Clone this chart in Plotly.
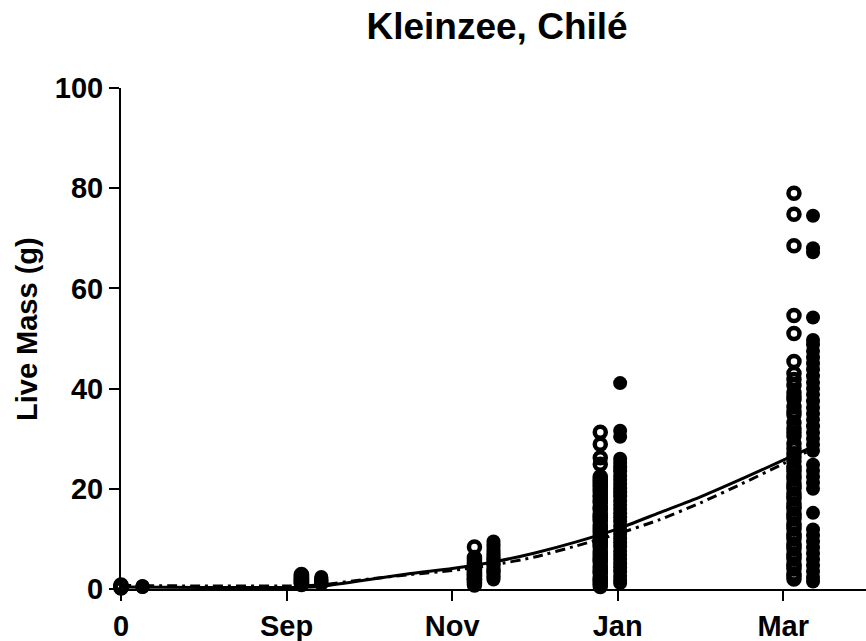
import plotly.graph_objects as go

# ---------------- data ----------------
tick_vals = [0, 2, 4, 6, 8]
tick_text = ["0", "Sep", "Nov", "Jan", "Mar"]

# sampling times (months from start) for the two groups
x_open = [0.0, 2.18, 4.27, 5.79, 8.13]
x_filled = [0.26, 2.42, 4.50, 6.03, 8.36]

open_t0 = [0.2, 0.4, 0.5, 0.6, 0.8, 0.3]
open_sep = [0.9, 1.1, 1.3, 1.5, 1.6, 1.8, 2.0, 2.1, 2.3, 2.5, 2.7, 2.9, 1.2, 1.9]
open_nov = [8.4, 6.3, 5.9, 5.6, 5.2, 4.9, 4.6, 4.4, 4.1, 3.8, 3.6, 3.3, 3.0, 2.8,
            2.5, 2.2, 2.0, 1.7, 1.4, 1.1, 0.8, 4.0, 3.2, 2.6, 1.9]
open_jan = [31.3, 28.9, 26.2, 24.9, 22.4, 21.6, 20.8, 20.0, 19.3, 18.6, 17.9, 17.2,
            16.5, 15.8, 15.0, 14.3, 13.5, 12.8, 12.0, 11.2, 10.5, 9.8, 9.0, 8.3,
            7.6, 6.8, 6.0, 5.3, 4.6, 3.8, 3.1, 2.4, 1.7, 1.0, 0.5, 20.5, 18.4,
            14.6, 10.1, 7.2, 4.2, 22.0, 21.2, 19.7, 17.5, 16.1, 13.9, 12.4, 11.6,
            9.4, 8.7, 6.4, 5.7, 3.4, 2.0, 1.3]
open_mar = [79.0, 74.8, 68.5, 54.6, 51.0, 45.4, 43.0, 41.8, 40.6, 39.2, 37.8, 36.4,
            34.8, 33.2, 32.0, 30.5, 29.0, 28.0, 27.0, 25.5, 24.5, 23.5, 22.0, 21.0,
            20.0, 19.0, 18.0, 17.0, 16.0, 15.0, 14.0, 13.0, 12.0, 11.0, 10.0, 9.0,
            8.0, 7.0, 6.0, 5.0, 4.0, 3.0, 2.0, 26.3, 24.0, 22.6, 20.5, 18.5, 16.5,
            14.5, 12.5, 10.5, 8.5, 6.5, 4.5, 2.6, 31.2, 35.5, 38.4]

filled_t0 = [0.4, 0.5, 0.6, 0.5, 0.4]
filled_sep = [1.0, 1.2, 1.4, 1.6, 1.8, 2.0, 2.2, 2.4, 1.3, 1.7]
filled_nov = [9.5, 9.0, 8.5, 8.0, 7.6, 7.1, 6.7, 6.3, 5.9, 5.5, 5.1, 4.8, 4.4, 4.0,
              3.7, 3.3, 3.0, 2.6, 2.3, 1.9, 6.0, 5.0, 3.5]
filled_jan = [41.1, 31.6, 30.4, 26.0, 25.2, 24.3, 23.5, 22.6, 21.8, 21.0, 20.1, 19.3,
              18.5, 17.6, 16.8, 16.0, 15.1, 14.3, 13.5, 12.6, 11.8, 11.0, 10.1, 9.3,
              8.5, 7.6, 6.8, 6.0, 5.1, 4.3, 3.5, 2.6, 1.8, 1.2]
filled_mar = [74.5, 68.0, 67.2, 54.2, 49.7, 48.8, 47.5, 46.2, 45.0, 43.8, 42.5, 41.2,
              40.0, 38.8, 37.5, 36.2, 35.0, 33.8, 32.5, 31.2, 30.0, 28.8, 27.6, 24.8,
              23.6, 22.4, 21.2, 20.0, 15.2, 11.9, 10.7, 9.5, 8.3, 7.1, 5.9, 4.7,
              3.5, 2.3, 1.5]

# fitted growth curves
fit_x = [0, 1, 2, 2.4, 3, 3.5, 4, 4.5, 5, 5.5, 6, 6.5, 7, 7.5, 8, 8.36]
fit_solid = [0.4, 0.3, 0.3, 0.5, 1.9, 3.1, 4.1, 5.4, 7.2, 9.4, 12.0, 15.2, 18.4,
             22.0, 25.7, 28.4]
fit_dashdot = [0.7, 0.6, 0.6, 0.8, 2.0, 2.9, 3.7, 4.8, 6.4, 8.6, 11.0, 13.8, 17.2,
               21.0, 25.0, 28.0]

open_groups = [open_t0, open_sep, open_nov, open_jan, open_mar]
filled_groups = [filled_t0, filled_sep, filled_nov, filled_jan, filled_mar]

# ---------------- figure ----------------
FONT = "Liberation Sans, Arial, sans-serif"

ox, oy = [], []
for xv, ys in zip(x_open, open_groups):
    ox += [xv] * len(ys)
    oy += ys
fx, fy = [], []
for xv, ys in zip(x_filled, filled_groups):
    fx += [xv] * len(ys)
    fy += ys

fig = go.Figure()
fig.add_trace(go.Scatter(
    x=ox, y=oy, mode="markers", cliponaxis=False,
    marker=dict(symbol="circle-open", size=11, color="black",
                line=dict(width=4.5, color="black")),
    showlegend=False))
fig.add_trace(go.Scatter(
    x=fx, y=fy, mode="markers", cliponaxis=False,
    marker=dict(symbol="circle", size=14, color="black"),
    showlegend=False))
fig.add_trace(go.Scatter(
    x=fit_x, y=fit_solid, mode="lines", line=dict(color="black", width=3,
                                                   shape="spline", smoothing=0.6),
    showlegend=False))
fig.add_trace(go.Scatter(
    x=fit_x, y=fit_dashdot, mode="lines",
    line=dict(color="black", width=3, dash="10px,5px,3px,5px",
              shape="spline", smoothing=0.6),
    showlegend=False))

fig.update_layout(
    width=866, height=641,
    margin=dict(l=121, r=0, t=88, b=52),
    paper_bgcolor="white", plot_bgcolor="white",
    title=dict(text="Kleinzee, Chilé", x=0.574, xanchor="center",
               y=1 - 26 / 641, yanchor="middle", yref="container",
               font=dict(family=FONT, size=37, color="black", weight="bold")),
    xaxis=dict(range=[0, 9.0], tickvals=tick_vals, ticktext=tick_text,
               ticks="outside", ticklen=10, tickwidth=2, tickcolor="black",
               showline=True, linewidth=2, linecolor="black",
               showgrid=False, zeroline=False,
               tickfont=dict(family=FONT, size=29, color="black", weight="bold")),
    yaxis=dict(range=[0, 100], tickvals=[0, 20, 40, 60, 80, 100],
               ticks="outside", ticklen=10, tickwidth=2, tickcolor="black",
               showline=True, linewidth=2, linecolor="black",
               showgrid=False, zeroline=False,
               tickfont=dict(family=FONT, size=29, color="black", weight="bold")),
    annotations=[dict(text="Live Mass (g)", textangle=-90, showarrow=False,
                      xref="paper", yref="paper",
                      x=-(121 - 27) / 745, y=(589 - 329) / 501,
                      xanchor="center", yanchor="middle",
                      font=dict(family=FONT, size=29, color="black",
                                weight="bold"))],
)

fig.write_html("out.html")
